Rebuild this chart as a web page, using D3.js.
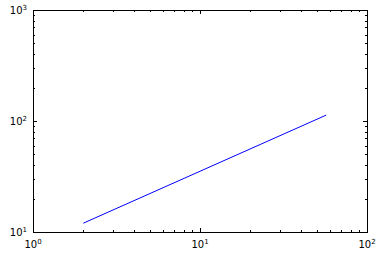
<!DOCTYPE html>
<html><head><meta charset="utf-8">
<script src="https://cdn.jsdelivr.net/npm/d3@7"></script>
<style>html,body{margin:0;padding:0;background:#fff;}svg{display:block;}</style>
</head><body>
<script>
const xValues = [2, 57];
const yValues = [12, 113];
const xTickExponents = [0, 1, 2];
const yTickExponents = [1, 2, 3];

const W = 388, H = 258;
const L = 33, R = 367, T = 10, B = 232;
const svg = d3.select("body").append("svg").attr("width", W).attr("height", H);
const x = d3.scaleLog().domain([1, 100]).range([L, R]);
const y = d3.scaleLog().domain([10, 1000]).range([B, T]);

const data = xValues.map((v, i) => [v, yValues[i]]);
svg.append("path").datum(data)
  .attr("d", d3.line().x(d => x(d[0])).y(d => y(d[1])))
  .attr("fill", "none").attr("stroke", "#0000ff").attr("stroke-width", 1);

const ticks = svg.append("g").attr("stroke", "#000").attr("stroke-width", 1).attr("shape-rendering", "crispEdges");
function minors(lo, hi) { const out = []; for (let e = lo; e < hi; e++) for (let m = 2; m <= 9; m++) out.push(m * Math.pow(10, e)); return out; }
const xMaj = xTickExponents.map(e => Math.pow(10, e));
const yMaj = yTickExponents.map(e => Math.pow(10, e));
const xMin = minors(0, 2), yMin = minors(1, 3);
function xt(v, len) {
  const px = Math.round(x(v)) + 0.5;
  ticks.append("line").attr("x1", px).attr("x2", px).attr("y1", B).attr("y2", B - len);
  ticks.append("line").attr("x1", px).attr("x2", px).attr("y1", T).attr("y2", T + len);
}
function yt(v, len) {
  const py = Math.round(y(v)) + 0.5;
  ticks.append("line").attr("y1", py).attr("y2", py).attr("x1", L).attr("x2", L + len);
  ticks.append("line").attr("y1", py).attr("y2", py).attr("x1", R).attr("x2", R - len);
}
xMaj.forEach(v => xt(v, 4)); xMin.forEach(v => xt(v, 2));
yMaj.forEach(v => yt(v, 4)); yMin.forEach(v => yt(v, 2));

svg.append("rect").attr("x", L + 0.5).attr("y", T + 0.5).attr("width", R - L).attr("height", B - T)
  .attr("fill", "none").attr("stroke", "#000").attr("stroke-width", 1).attr("shape-rendering", "crispEdges");

function label(t, xp, yp, anchor, e) {
  const tx = svg.append("text").attr("x", xp).attr("y", yp).attr("text-anchor", anchor)
    .attr("font-family", "DejaVu Sans").attr("font-size", 10).attr("fill", "#000");
  tx.append("tspan").text("10");
  tx.append("tspan").attr("font-size", 7).attr("dy", -4).text(String(e));
}
xTickExponents.forEach(e => label("", x(Math.pow(10, e)), 248, "middle", e));
yTickExponents.forEach(e => label("", 27, y(Math.pow(10, e)) + 4, "end", e));
</script>
</body></html>
